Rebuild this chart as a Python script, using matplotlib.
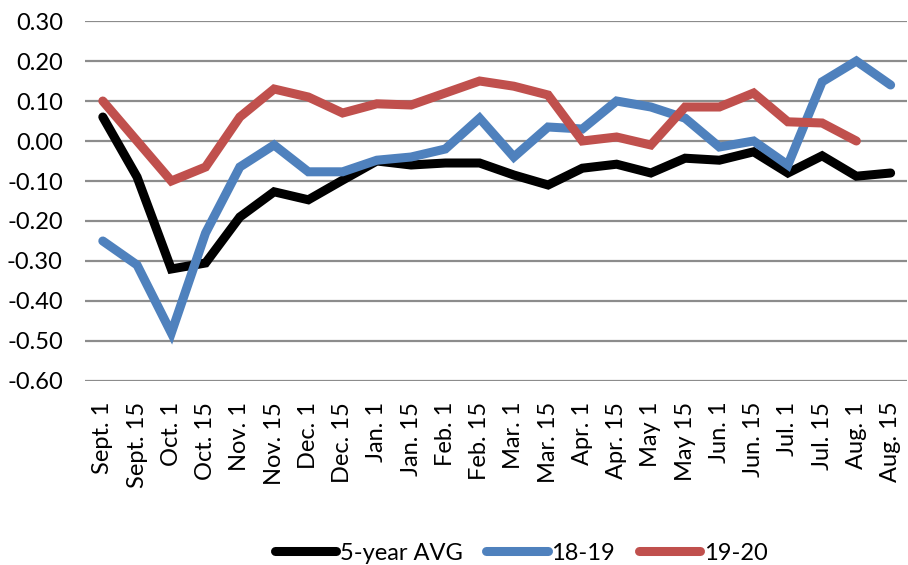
import matplotlib.pyplot as plt

dates = ["Sept. 1", "Sept. 15", "Oct. 1", "Oct. 15", "Nov. 1", "Nov. 15",
         "Dec. 1", "Dec. 15", "Jan. 1", "Jan. 15", "Feb. 1", "Feb. 15",
         "Mar. 1", "Mar. 15", "Apr. 1", "Apr. 15", "May 1", "May 15",
         "Jun. 1", "Jun. 15", "Jul. 1", "Jul. 15", "Aug. 1", "Aug. 15"]

avg5 = [0.06, -0.09, -0.32, -0.305, -0.19, -0.127, -0.147, -0.098, -0.05, -0.06,
        -0.055, -0.055, -0.085, -0.11, -0.068, -0.058, -0.08, -0.043, -0.048, -0.027,
        -0.08, -0.037, -0.088, -0.08]
s1819 = [-0.25, -0.31, -0.48, -0.23, -0.065, -0.01, -0.077, -0.077, -0.048, -0.04,
         -0.02, 0.057, -0.04, 0.035, 0.03, 0.10, 0.085, 0.057, -0.015, 0.0,
         -0.06, 0.148, 0.20, 0.14]
s1920 = [0.10, 0.0, -0.10, -0.065, 0.06, 0.13, 0.11, 0.07, 0.093, 0.09,
         0.12, 0.15, 0.137, 0.115, 0.0, 0.01, -0.01, 0.085, 0.085, 0.12,
         0.048, 0.045, 0.0]

plt.rcParams['font.family'] = ['Lato', 'DejaVu Sans']

fig = plt.figure(figsize=(9.08, 5.65), dpi=100)
ax = fig.add_axes([0.0936, 0.3257, 0.905, 0.6371])

x = list(range(len(dates)))
ax.plot(x, avg5, color='black', lw=6.5, label='5-year AVG', solid_capstyle='round', solid_joinstyle='miter')
ax.plot(x, s1819, color='#4f81bd', lw=6.5, label='18-19', solid_capstyle='round', solid_joinstyle='miter')
ax.plot(x[:len(s1920)], s1920, color='#c0504d', lw=6.5, label='19-20', solid_capstyle='round', solid_joinstyle='miter')

ax.set_ylim(-0.60, 0.30)
ax.set_xlim(-0.52, 23.47)
yt = [i / 10 for i in range(-6, 4)]
ax.set_yticks(yt)
ax.set_yticklabels(["%.2f" % v for v in yt], fontsize=17)
ax.set_xticks(x)
ax.set_xticklabels(dates, rotation=90, fontsize=17)
ax.tick_params(length=0)
ax.tick_params(axis='y', pad=16)
ax.tick_params(axis='x', pad=15)
ax.grid(axis='y', color='#8c8c8c', lw=1.6)
ax.set_axisbelow(True)
for s in ax.spines.values():
    s.set_visible(False)

fig.legend(loc='lower center', bbox_to_anchor=(0.574, -0.035), ncol=3, frameon=False,
           fontsize=17, handlelength=2.6, handletextpad=0.15, columnspacing=1.0)

fig.savefig('out.png', dpi=100)
